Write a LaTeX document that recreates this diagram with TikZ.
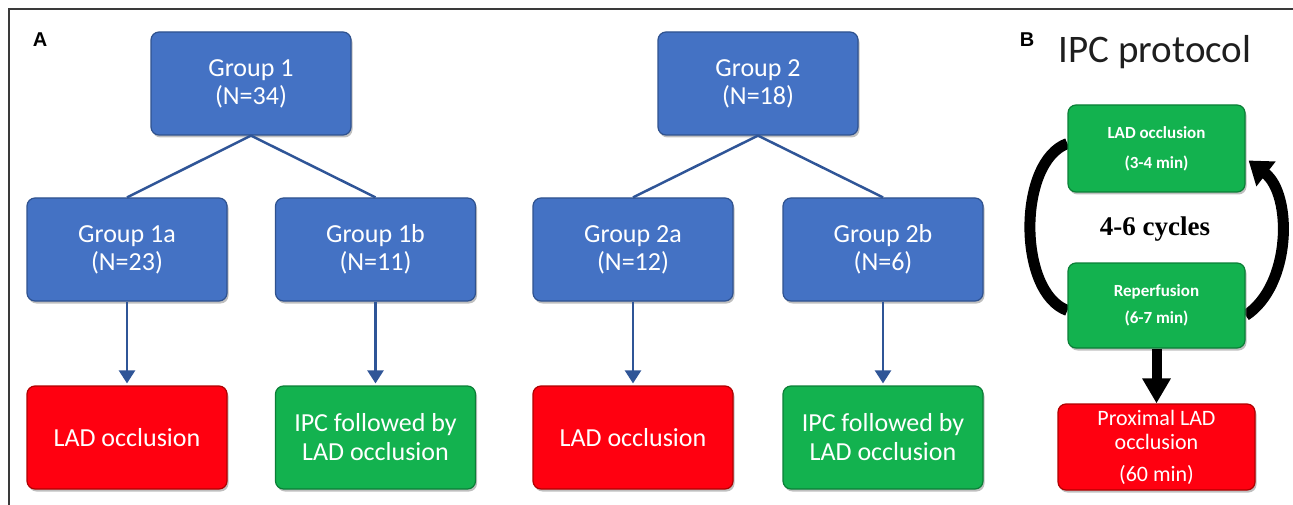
\documentclass[tikz,border=0pt]{standalone}
\usepackage{fontspec}
\setmainfont{Carlito}
\newfontfamily\arialfont{Liberation Sans}
\newfontfamily\timesfont{Liberation Serif}
\usetikzlibrary{arrows.meta,shadows,calc,backgrounds}
\definecolor{boxblue}{HTML}{4472C4}
\definecolor{boxblueedge}{HTML}{2F528F}
\definecolor{linkblue}{HTML}{2F5597}
\definecolor{boxred}{HTML}{FF0010}
\definecolor{boxrededge}{HTML}{B00000}
\definecolor{boxgreen}{HTML}{13B24F}
\definecolor{boxgreenedge}{HTML}{0B7F37}
\definecolor{framegray}{HTML}{3A3A3A}
\definecolor{titlegray}{HTML}{1E1E1E}
\tikzset{
  basebox/.style={rounded corners=8pt, line width=1.2pt, text=white, align=center, inner sep=0pt,
    drop shadow={shadow xshift=1.5pt, shadow yshift=-2.5pt, opacity=0.5}},
  bluebox/.style={basebox, fill=boxblue, draw=boxblueedge, minimum width=200pt, minimum height=103pt,
    font=\fontsize{26}{28}\selectfont},
  redbox/.style={basebox, fill=boxred, draw=boxrededge},
  greenbox/.style={basebox, fill=boxgreen, draw=boxgreenedge},
  outcome/.style={minimum width=200pt, minimum height=103pt, font=\fontsize{26}{29}\selectfont},
  splitline/.style={draw=linkblue, line width=2.5pt},
  downarrow/.style={draw=linkblue, line width=2.5pt, -{Triangle[width=16pt,length=13pt]}, shorten >=2pt},
  cyclearc/.style={line width=11pt, draw=black},
  panellabel/.style={font=\arialfont\bfseries\fontsize{20}{20}\selectfont, anchor=center},
}
\begin{document}
\begin{tikzpicture}[x=1pt,y=-1pt]
\useasboundingbox (0,0) rectangle (1293,505);
\draw[color=framegray, line width=2pt] (9,505) -- (9,9) -- (1293,9);

% Panel A
\node[panellabel] (lA) at (40,40) {A};
\node[bluebox] (g1) at (251,83.5) {Group 1\\(N=34)};
\node[bluebox] (g1a) at (127,249.5) {Group 1a\\(N=23)};
\node[bluebox] (g1b) at (375.5,249.5) {Group 1b\\(N=11)};
\node[redbox, outcome] (r1) at (127,437.5) {LAD occlusion};
\node[greenbox, outcome] (p1) at (375.5,437.5) {IPC followed by\\LAD occlusion};

\node[bluebox] (g2) at (758,83.5) {Group 2\\(N=18)};
\node[bluebox] (g2a) at (633,249.5) {Group 2a\\(N=12)};
\node[bluebox] (g2b) at (883,249.5) {Group 2b\\(N=6)};
\node[redbox, outcome] (r2) at (633,437.5) {LAD occlusion};
\node[greenbox, outcome] (p2) at (883,437.5) {IPC followed by\\LAD occlusion};

\draw[splitline] (g1.south) -- (g1a.north);
\draw[splitline] (g1.south) -- (g1b.north);
\draw[splitline] (g2.south) -- (g2a.north);
\draw[splitline] (g2.south) -- (g2b.north);
\draw[downarrow] (g1a.south) -- (r1.north);
\draw[downarrow] (g1b.south) -- (p1.north);
\draw[downarrow] (g2a.south) -- (r2.north);
\draw[downarrow] (g2b.south) -- (p2.north);

% Panel B
\node[panellabel] (lB) at (1027,40) {B};
\node[anchor=base, text=titlegray, font=\fontsize{39}{39}\selectfont] (title) at (1155,63) {IPC protocol};
\node[greenbox, minimum width=177pt, minimum height=87pt, font=\bfseries\fontsize{17}{30}\selectfont] (lad) at (1156.5,148.5) {LAD occlusion\\(3-4 min)};
\node[greenbox, minimum width=177pt, minimum height=85pt, font=\bfseries\fontsize{17}{27}\selectfont] (rep) at (1156.5,305.5) {Reperfusion\\(6-7 min)};
\node[redbox, minimum width=197pt, minimum height=86pt, font=\fontsize{22}{24}\selectfont] (prox) at (1156.5,447) {Proximal LAD\\occlusion\\[8pt](60 min)};
\node[anchor=base, font=\timesfont\bfseries\fontsize{27}{27}\selectfont] (cyc) at (1155,236) {4-6 cycles};

\draw[line width=10pt, -{Triangle[width=27pt,length=25pt]}] (rep.south) -- (prox.north);

\begin{scope}[on background layer]
\draw[cyclearc] ($(lad.west)+(0,-5)$) .. controls +(-50,18) and +(-50,-18) .. ($(rep.west)+(0,5)$);
\draw[cyclearc, -{Triangle[width=30pt,length=22pt]}] ($(rep.east)+(0,10)$) .. controls +(46,-30) and +(44,34) .. ($(lad.east)+(3,12)$);
\end{scope}
\end{tikzpicture}
\end{document}
